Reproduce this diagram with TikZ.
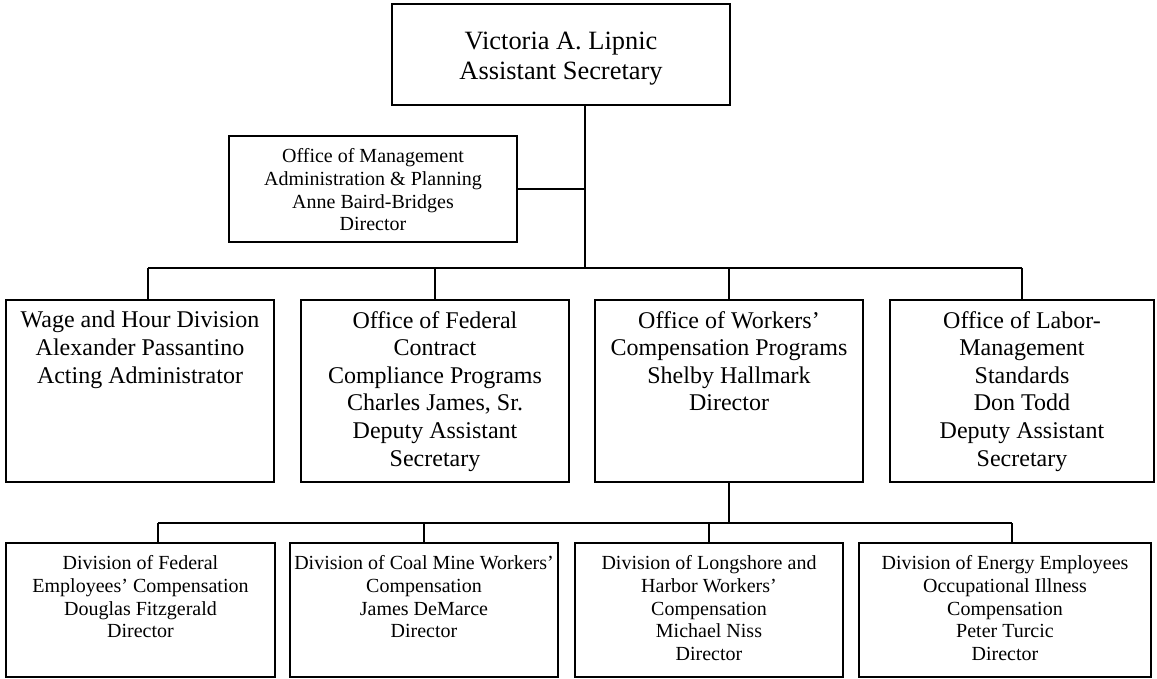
\documentclass[tikz,border=0pt]{standalone}
\usepackage{fontspec}
\setmainfont{Liberation Serif}
\begin{document}
\begin{tikzpicture}[x=1pt,y=-1pt,
  box/.style={draw, line width=2pt, inner sep=0pt, outer sep=0pt, anchor=north west, rectangle},
  link/.style={line width=2pt},
  txtbig/.style={anchor=north, align=center, inner sep=0pt, font=\fontsize{26.4}{29.5}\selectfont},
  txtmid/.style={anchor=north, align=center, inner sep=0pt, font=\fontsize{24}{27.6}\selectfont},
  txtsmall/.style={anchor=north, align=center, inner sep=0pt, font=\fontsize{20}{22.7}\selectfont}]
\useasboundingbox (0,0) rectangle (1157,679);
% top
\node[box, minimum width=338pt, minimum height=101pt] (top) at (392,4) {};
\node[txtbig] (toptxt) at (561,32) {Victoria A. Lipnic\\Assistant Secretary};
% management
\node[box, minimum width=288pt, minimum height=106pt] (mgmt) at (229,136) {};
\node[txtsmall] (mgmttxt) at (373,148.5) {Office of Management\\Administration \& Planning\\Anne Baird-Bridges\\Director};
% row 2
\node[box, minimum width=268pt, minimum height=182pt] (a1) at (6,300) {};
\node[box, minimum width=268pt, minimum height=182pt] (a2) at (301,300) {};
\node[box, minimum width=268pt, minimum height=182pt] (a3) at (595,300) {};
\node[box, minimum width=264pt, minimum height=182pt] (a4) at (890,300) {};
\node[txtmid] (a1t) at (140,311) {Wage and Hour Division\\Alexander Passantino\\Acting Administrator};
\node[txtmid] (a2t) at (435,311) {Office of Federal\\Contract\\Compliance Programs\\Charles James, Sr.\\Deputy Assistant\\Secretary};
\node[txtmid] (a3t) at (729,311) {Office of Workers’\\Compensation Programs\\Shelby Hallmark\\Director};
\node[txtmid] (a4t) at (1022,311) {Office of Labor-\\Management\\Standards\\Don Todd\\Deputy Assistant\\Secretary};
% row 3
\node[box, minimum width=269pt, minimum height=134pt] (c1) at (6,543) {};
\node[box, minimum width=268pt, minimum height=134pt] (c2) at (290,543) {};
\node[box, minimum width=268pt, minimum height=134pt] (c3) at (575,543) {};
\node[box, minimum width=292pt, minimum height=134pt] (c4) at (859,543) {};
\node[txtsmall] (c1t) at (140.5,555.5) {Division of Federal\\Employees’ Compensation\\Douglas Fitzgerald\\Director};
\node[txtsmall] (c2t) at (424,555.5) {Division of Coal Mine Workers’\\Compensation\\James DeMarce\\Director};
\node[txtsmall] (c3t) at (709,555.5) {Division of Longshore and\\Harbor Workers’\\Compensation\\Michael Niss\\Director};
\node[txtsmall] (c4t) at (1005,555.5) {Division of Energy Employees\\Occupational Illness\\Compensation\\Peter Turcic\\Director};
% connectors level 1
\coordinate (t0) at (585,105);
\coordinate (tj) at (585,268);
\coordinate (bl) at (148,268);
\coordinate (br) at (1022,268);
\draw[link] (t0) -- (tj);
\draw[link] (mgmt.east) -- (mgmt.east -| t0);
\draw[link] (bl) -- (br);
\draw[link] (bl) -- (bl |- a1.north);
\draw[link] (a2.north |- bl) -- (a2.north);
\draw[link] (a3.north |- bl) -- (a3.north);
\draw[link] (br) -- (br |- a4.north);
% connectors level 2
\coordinate (cj) at (729,523);
\coordinate (cl) at (158,523);
\coordinate (cr) at (1012,523);
\draw[link] (a3.south) -- (cj);
\draw[link] (cl) -- (cr);
\draw[link] (cl) -- (cl |- c1.north);
\draw[link] (c2.north |- cl) -- (c2.north);
\draw[link] (c3.north |- cl) -- (c3.north);
\draw[link] (cr) -- (cr |- c4.north);
\end{tikzpicture}
\end{document}
